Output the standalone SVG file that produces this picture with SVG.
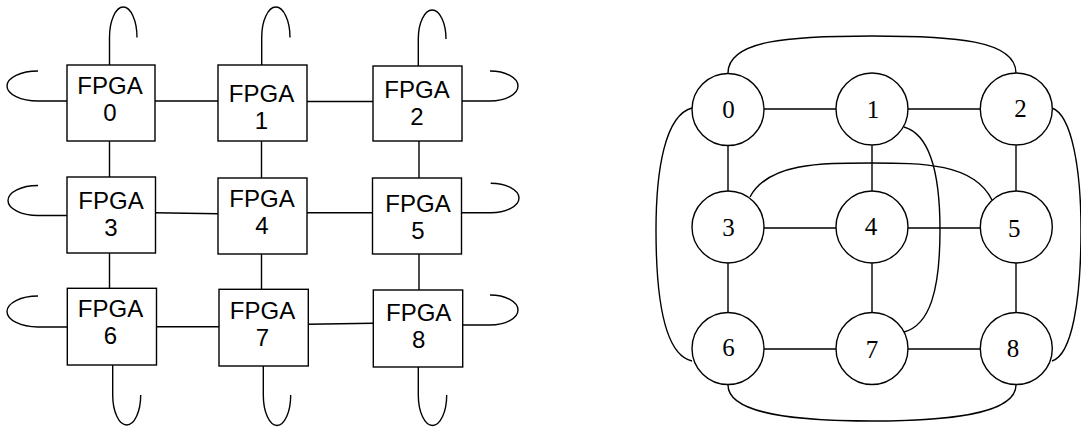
<svg xmlns="http://www.w3.org/2000/svg" width="1081" height="427" viewBox="0 0 1081 427">
<style>
.box{fill:#fff;stroke:#000;stroke-width:1.4}
.ln{fill:none;stroke:#000;stroke-width:1.4}
.ft{font-family:"Liberation Sans",Arial,sans-serif;font-size:24px;text-anchor:middle;fill:#000}
.nd{fill:#fff;stroke:#000;stroke-width:1.4}
.nt{font-family:"Liberation Serif","Times New Roman",serif;font-size:25px;text-anchor:middle;fill:#000}
</style>
<rect width="1081" height="427" fill="#fff"/>
<g id="connectors">
<path class="ln" d="M155,101 L218,101 M307,101.5 L373,101.5"/>
<path class="ln" d="M155,212.7 L218,213.7 M307,212.7 L372,212.7"/>
<path class="ln" d="M156,326.7 L219,326.7 M308,324.3 L373,323.3"/>
<path class="ln" d="M109.5,141 L109.5,177 M109.5,253 L109.5,288"/>
<path class="ln" d="M261.5,141 L261.5,178 M261.5,254 L261.5,289"/>
<path class="ln" d="M419,141 L419,178 M419,254 L419,290"/>
<path class="ln" d="M109.5,65 L109.5,37.5 A13.75 30.5 0 0 1 137,37.5"/>
<path class="ln" d="M261.7,65 L261.7,37.5 A14.15 30.5 0 0 1 290,37.5"/>
<path class="ln" d="M418.3,66 L418.3,39 A13.85 29 0 0 1 446,39"/>
<path class="ln" d="M67,101 L38,101 A31 15 0 0 1 38,71"/>
<path class="ln" d="M67,215.5 L38,215.5 A30 15 0 0 1 38,185.5"/>
<path class="ln" d="M67,327 L38,327 A31 15.5 0 0 1 38,296"/>
<path class="ln" d="M462,101 L490,101 A28 15 0 0 0 490,71"/>
<path class="ln" d="M462,212.7 L490.7,212.7 A28.3 14.7 0 0 0 490.7,183.3"/>
<path class="ln" d="M463,325 L490,325 A28 15 0 0 0 490,295"/>
<path class="ln" d="M112.7,365 L112.7,395 A14 30 0 0 0 140.7,395"/>
<path class="ln" d="M263.3,366 L263.3,395 A13.7 30.5 0 0 0 290.7,395"/>
<path class="ln" d="M418.3,367 L418.3,395 A14.2 30.5 0 0 0 446.7,395"/>
<path class="ln" d="M764,109 L836,109 M908,109 L980,109"/>
<path class="ln" d="M764,228 L836,228 M908,228 L980,228"/>
<path class="ln" d="M764,349 L836,349 M908,349 L980,349"/>
<path class="ln" d="M728,145.5 L728,191 M728,263 L728,312.5"/>
<path class="ln" d="M872,145.5 L872,191 M872,263 L872,312.5"/>
<path class="ln" d="M1016,145.5 L1016,191 M1016,263 L1016,312.5"/>
<path class="ln" d="M728,73 C728,40 790,36 872,36 C954,36 1016,40 1016,73"/>
<path class="ln" d="M750,197 C768,163 820,163 871,163 C922,163 974,163 992,200"/>
<path class="ln" d="M904,127 C925,133 940,160 940,230 C940,290 930,325 904,332"/>
<path class="ln" d="M692,108 C665,115 656,170 656,230 C656,300 665,355 692,361"/>
<path class="ln" d="M1052,108 C1072,115 1081,170 1081,230 C1081,300 1072,355 1052,361"/>
<path class="ln" d="M728,385 C728,415 800,421 872,421 C944,421 1016,415 1016,385"/>
</g>
<g id="fpga0"><rect class="box" x="67" y="65" width="88" height="76"/><text class="ft" x="110" y="93.5">FPGA</text><text class="ft" x="110" y="120.5">0</text></g>
<g id="fpga1"><rect class="box" x="218" y="65" width="89" height="76"/><text class="ft" x="261.5" y="102">FPGA</text><text class="ft" x="261.5" y="129">1</text></g>
<g id="fpga2"><rect class="box" x="373" y="66" width="89" height="75"/><text class="ft" x="417" y="97.5">FPGA</text><text class="ft" x="417" y="124.5">2</text></g>
<g id="fpga3"><rect class="box" x="67" y="177" width="88.5" height="76"/><text class="ft" x="111" y="208.8">FPGA</text><text class="ft" x="111" y="235.8">3</text></g>
<g id="fpga4"><rect class="box" x="218" y="178" width="89" height="76"/><text class="ft" x="262" y="207.2">FPGA</text><text class="ft" x="262" y="234.2">4</text></g>
<g id="fpga5"><rect class="box" x="372.5" y="178" width="89" height="76"/><text class="ft" x="418" y="212.2">FPGA</text><text class="ft" x="418" y="239.2">5</text></g>
<g id="fpga6"><rect class="box" x="67.3" y="288.3" width="89.2" height="76.7"/><text class="ft" x="110.5" y="317.2">FPGA</text><text class="ft" x="110.5" y="344.2">6</text></g>
<g id="fpga7"><rect class="box" x="219" y="289.3" width="89.3" height="76.7"/><text class="ft" x="262.5" y="318.8">FPGA</text><text class="ft" x="262.5" y="345.8">7</text></g>
<g id="fpga8"><rect class="box" x="373.3" y="290" width="89.4" height="77"/><text class="ft" x="418.7" y="320.5">FPGA</text><text class="ft" x="418.7" y="347.5">8</text></g>
<g id="n0"><circle class="nd" cx="728" cy="109.5" r="36"/><text class="nt" x="728.5" y="118">0</text></g>
<g id="n1"><circle class="nd" cx="872" cy="109" r="36"/><text class="nt" x="873" y="117.5">1</text></g>
<g id="n2"><circle class="nd" cx="1016.3" cy="109" r="36"/><text class="nt" x="1020.5" y="117">2</text></g>
<g id="n3"><circle class="nd" cx="728" cy="227" r="36"/><text class="nt" x="728.5" y="235.5">3</text></g>
<g id="n4"><circle class="nd" cx="872" cy="227" r="36"/><text class="nt" x="871" y="235">4</text></g>
<g id="n5"><circle class="nd" cx="1016.3" cy="227" r="36"/><text class="nt" x="1014.3" y="237">5</text></g>
<g id="n6"><circle class="nd" cx="728" cy="348.5" r="36"/><text class="nt" x="728.5" y="355.5">6</text></g>
<g id="n7"><circle class="nd" cx="872" cy="348.5" r="36"/><text class="nt" x="872" y="357.5">7</text></g>
<g id="n8"><circle class="nd" cx="1016.3" cy="348.5" r="36"/><text class="nt" x="1013" y="356.5">8</text></g>
</svg>
